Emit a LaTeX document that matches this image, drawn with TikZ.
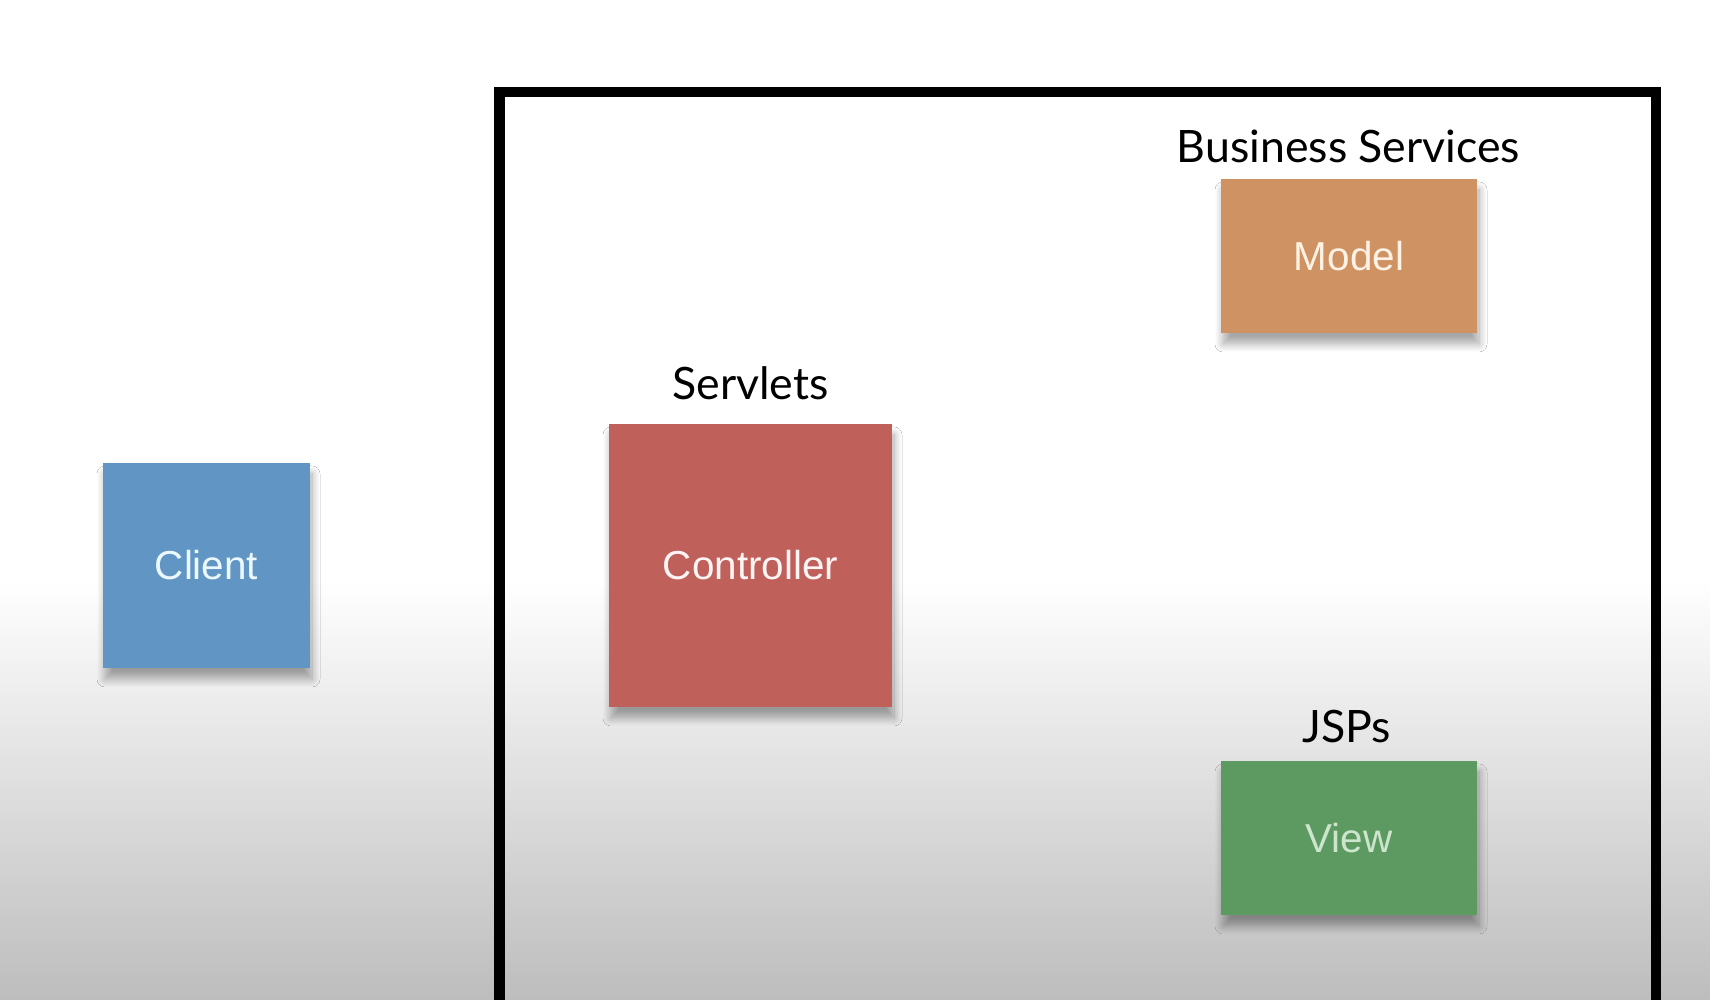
\documentclass[tikz,border=0pt]{standalone}
\usepackage{fontspec}
\usetikzlibrary{shadows.blur}
\newfontfamily\boxfont{Liberation Sans}
\newfontfamily\tagfont{Lato}

\definecolor{clientblue}{RGB}{97,150,196}
\definecolor{ctrlred}{RGB}{191,96,91}
\definecolor{modelorange}{RGB}{206,146,99}
\definecolor{viewgreen}{RGB}{92,154,97}
\definecolor{bggray}{RGB}{189,189,189}

\tikzset{
  tier/.style={rectangle, inner sep=0pt, font=\boxfont\fontsize{11.5}{14}\selectfont,
    blur shadow={shadow xshift=0.2mm, shadow yshift=-1.1mm, shadow blur radius=0.8mm, shadow blur steps=12, shadow opacity=35}},
  tiertag/.style={anchor=base, inner sep=0pt, font=\tagfont\fontsize{12.7}{15}\selectfont}
}

\begin{document}
\begin{tikzpicture}
    % Background
    \clip (0,0) rectangle (17.1,10);
    \fill [white] (0,4.2) rectangle (17.1,10);
    \shade [top color=white, bottom color=bggray] (0,0) rectangle (17.1,4.2);

    % Container
    \draw [line width=3.1pt] (4.995,-0.5) -- (4.995,9.08) -- (16.56,9.08) -- (16.56,-0.5);

    % Nodes
    \node (client) at (2.065,4.345) [tier, fill=clientblue, text=cyan!8, minimum width=2.07cm, minimum height=2.05cm] {Client};
    \node (ctrl) at (7.505,4.345) [tier, fill=ctrlred, text=red!4, minimum width=2.83cm, minimum height=2.83cm] {Controller};
    \node (model) at (13.49,7.44) [tier, fill=modelorange, text=orange!10, minimum width=2.56cm, minimum height=1.54cm] {Model};
    \node (view) at (13.49,1.62) [tier, fill=viewgreen, text=green!50!black!20!white, minimum width=2.56cm, minimum height=1.54cm] {View};

    % Labels
    \node (servlets) at (7.505,6.0) [tiertag] {Servlets};
    \node (business) at (13.485,8.37) [tiertag] {Business Services};
    \node (jsps) at (13.465,2.57) [tiertag] {JSPs};
\end{tikzpicture}
\end{document}
